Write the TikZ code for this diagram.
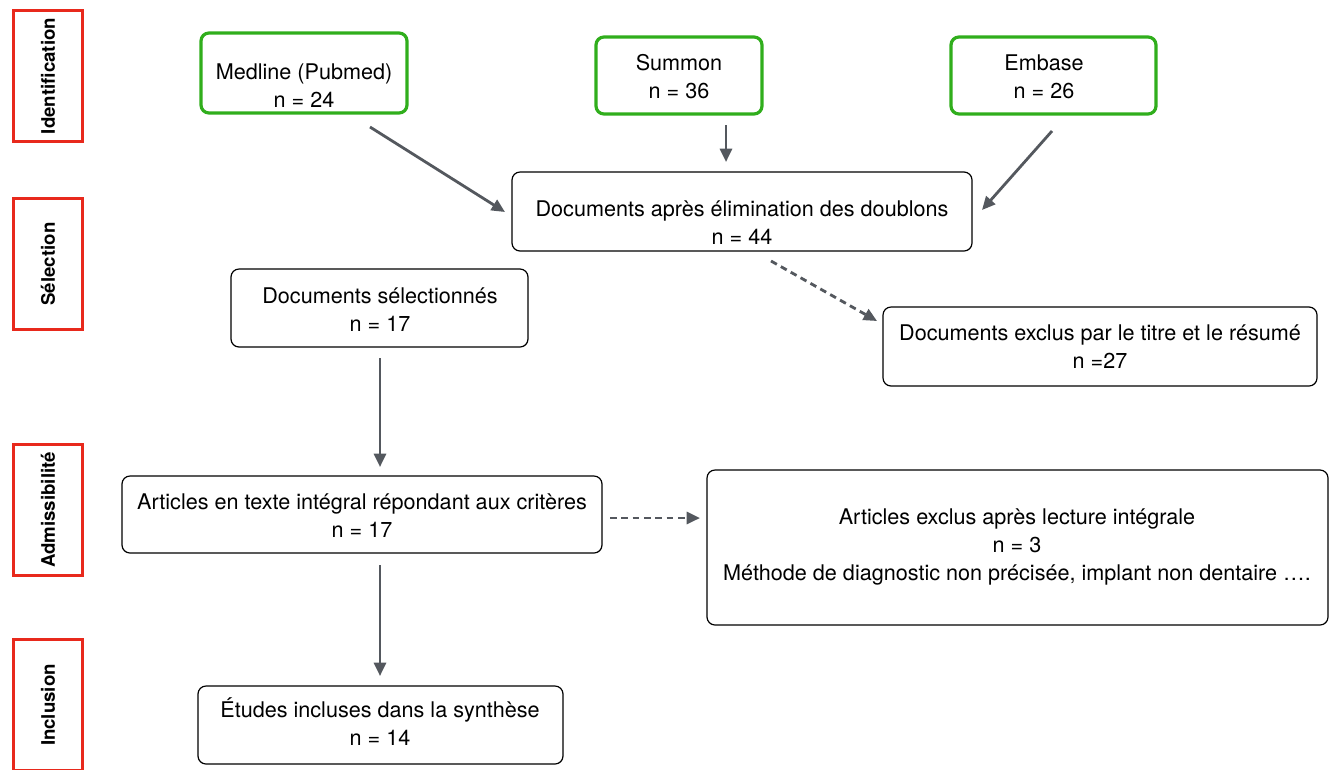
\documentclass[tikz,border=0pt]{standalone}
\usepackage{fontspec}
\setmainfont{TeX Gyre Heros}
\usetikzlibrary{arrows.meta}
\definecolor{dbgreen}{HTML}{30AE1C}
\definecolor{phasered}{HTML}{E8291C}
\definecolor{flowgray}{HTML}{54585E}

\begin{document}
\begin{tikzpicture}[x=0.75pt,y=-0.75pt]
      \tikzstyle{db}=[rectangle,rounded corners=6pt,draw=dbgreen,line width=2.4pt,inner sep=0pt]
      \tikzstyle{doc}=[rectangle,rounded corners=6pt,draw=black,line width=0.9pt,inner sep=0pt]
      \tikzstyle{phase}=[rectangle,rotate=90,draw=phasered,line width=2.4pt,minimum width=98.5pt,minimum height=52pt,inner sep=0pt,font=\fontsize{14}{16}\selectfont\bfseries]
      \tikzstyle{txt}=[align=center,font=\fontsize{16.2}{21}\selectfont]
      \tikzstyle{flow}=[-{Triangle[length=10pt,width=9pt]},draw=flowgray,line width=2.1pt]
      \tikzstyle{skip}=[flow,dash pattern=on 5pt off 3.5pt]

      \fill[white] (0,0) rectangle (1330,769);
      \useasboundingbox (0,0) rectangle (1330,769);

      \begin{scope}
        \node[phase](ident) at (48,76){Identification};
        \node[phase](selec) at (48,264){Sélection};
        \node[phase](admis) at (48,510){Admissibilité};
        \node[phase](incl) at (48,705){Inclusion};
      \end{scope}

      \begin{scope}
        \node[db,minimum width=154.5pt,minimum height=60pt](medline) at (304,73){};
        \node[txt](medlinetxt) at (304,86){Medline (Pubmed)\\n = 24};

        \node[db,minimum width=124.5pt,minimum height=57.75pt](summon) at (679,75.5){};
        \node[txt](summontxt) at (679,77){Summon\\n = 36};

        \node[db,minimum width=153.75pt,minimum height=57.75pt](embase) at (1053.5,75.5){};
        \node[txt](embasetxt) at (1044,77){Embase\\n = 26};
      \end{scope}

      \begin{scope}
        \node[doc,minimum width=345pt,minimum height=59.25pt](dedup) at (742,211.5){};
        \node[txt](deduptxt) at (742,223){Documents après élimination des doublons\\n = 44};

        \node[doc,minimum width=222.75pt,minimum height=58.5pt](kept) at (379.5,308){};
        \node[txt](kepttxt) at (380,310){Documents sélectionnés\\n = 17};

        \node[doc,minimum width=325.5pt,minimum height=59.25pt](out1) at (1100,346.5){};
        \node[txt](out1txt) at (1100,347){Documents exclus par le titre et le résumé\\n =27};
      \end{scope}

      \begin{scope}
        \node[doc,minimum width=360pt,minimum height=57.75pt](full) at (362,514.5){};
        \node[txt](fulltxt) at (362,516){Articles en texte intégral répondant aux critères\\n = 17};

        \node[doc,minimum width=465.75pt,minimum height=116.25pt](out2) at (1017.5,547.5){};
        \node[txt](out2txt) at (1017,547){Articles exclus après lecture intégrale\\n = 3\\Méthode de diagnostic non précisée, implant non dentaire ….};

        \node[doc,minimum width=273.75pt,minimum height=58.5pt](final) at (380.5,725){};
        \node[txt](finaltxt) at (380,722){Études incluses dans la synthèse\\n = 14};
      \end{scope}

      \coordinate (m1) at (370,127);
      \coordinate (m2) at (505,212);
      \coordinate (s1) at (726,125);
      \coordinate (s2) at (726,162);
      \coordinate (e1) at (1052,131);
      \coordinate (e2) at (982,210);
      \coordinate (d1) at (771,261);
      \coordinate (d2) at (877,321);
      \coordinate (k1) at (380,358);
      \coordinate (k2) at (380,467);
      \coordinate (f1) at (610,518);
      \coordinate (f2) at (700,518);
      \coordinate (g1) at (380,565);
      \coordinate (g2) at (380,676);

      \path
      (m1) edge[flow] (m2)
      (s1) edge[flow] (s2)
      (e1) edge[flow] (e2)
      (k1) edge[flow] (k2)
      (g1) edge[flow] (g2)
      (d1) edge[skip] (d2)
      (f1) edge[skip] (f2);
    \end{tikzpicture}
\end{document}
